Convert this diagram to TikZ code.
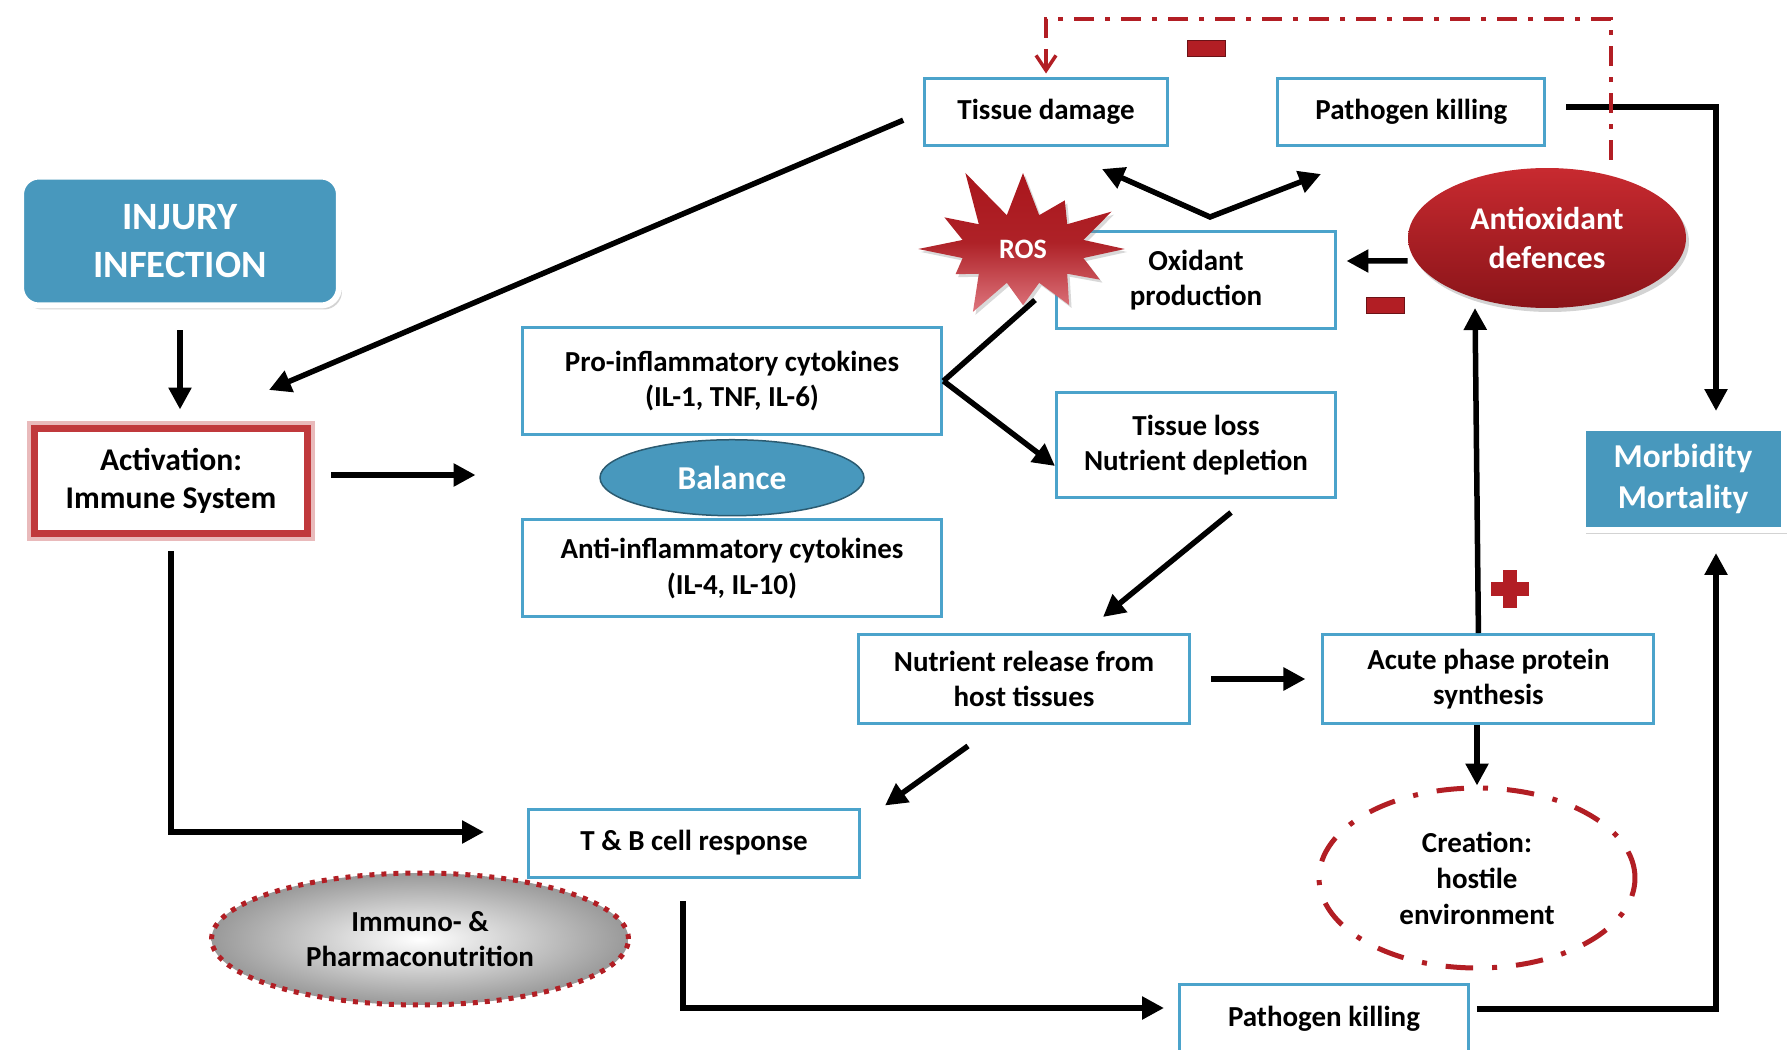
\documentclass[tikz,border=0pt]{standalone}
\usepackage{fontspec}
\setmainfont{Carlito}
\usetikzlibrary{positioning,shapes.geometric,shapes.symbols,shadows,arrows.meta}

\definecolor{boxblue}{RGB}{75,163,203}
\definecolor{fillblue}{RGB}{72,152,189}
\definecolor{darkred}{RGB}{178,30,36}
\definecolor{actred}{RGB}{192,57,60}
\definecolor{aored}{RGB}{200,42,48}
\definecolor{aodark}{RGB}{138,20,25}
\definecolor{rostop}{RGB}{170,22,28}
\definecolor{rosbot}{RGB}{222,118,126}

\begin{document}
\begin{tikzpicture}[x=0.02cm, y=-0.02cm,
  >={Triangle[length=0.44cm,width=0.44cm]},
  arr/.style={->, line width=0.11cm},
  txt/.style={align=center, inner sep=0pt, font=\bfseries\fontsize{16.5}{20}\selectfont},
  bluebox/.style={txt, rectangle, draw=boxblue, line width=0.06cm, fill=white},
  headbox/.style={txt, rectangle, fill=fillblue, draw=white, line width=0.12cm, text=white,
    drop shadow={shadow xshift=0.06cm, shadow yshift=-0.08cm, opacity=0.35}},
  minus/.style={rectangle, fill=darkred, draw=darkred!60!black, line width=0.02cm,
    minimum width=0.76cm, minimum height=0.32cm, inner sep=0pt},
  inhib/.style={draw=darkred, line width=0.07cm, dash pattern=on 0.4cm off 0.22cm on 0.1cm off 0.22cm},
  inhibtip/.style={draw=darkred, line width=0.07cm, -{Straight Barb[length=0.3cm,width=0.4cm]}}
]
\useasboundingbox (0,0) rectangle (1790,1050);

\node (injury) [headbox, rounded corners=0.36cm, minimum width=6.36cm, minimum height=2.58cm,
  font=\bfseries\fontsize{22}{27}\selectfont] at (180,241) {INJURY\\INFECTION};
\node (activ) [txt, rectangle, fill=white, draw=actred, line width=0.14cm,
  preaction={draw=actred!35, line width=0.28cm}, minimum width=5.48cm, minimum height=2.12cm,
  font=\bfseries\fontsize{18}{22}\selectfont] at (171,481) {Activation:\\Immune System};

\node (proinf) [bluebox, minimum width=8.4cm, minimum height=2.14cm] at (732,381) {Pro-inflammatory cytokines\\(IL-1, TNF, IL-6)};
\node (balance) [txt, ellipse, fill=fillblue, draw=fillblue!60!black, line width=0.03cm, text=white,
  minimum width=5.28cm, minimum height=1.52cm, font=\bfseries\fontsize{19}{23}\selectfont,
  below=0.06cm of proinf] {Balance};
\node (antiinf) [bluebox, minimum width=8.4cm, minimum height=1.94cm, below=0.04cm of balance] {Anti-inflammatory cytokines\\(IL-4, IL-10)};

\node (tissue) [bluebox, minimum width=4.88cm, minimum height=1.36cm] at (1046,112) {Tissue damage};
\node (pathtop) [bluebox, minimum width=5.34cm, minimum height=1.36cm, right=2.14cm of tissue] {Pathogen killing};
\node (oxid) [bluebox, minimum width=5.6cm, minimum height=1.96cm] at (1196,280) {Oxidant\\production};
\node (ros) [txt, starburst, starburst points=12, starburst point height=1.1cm, random starburst=11,
  top color=rostop, bottom color=rosbot, middle color=rostop!95!white, text=white,
  minimum width=4.7cm, minimum height=3.6cm, font=\bfseries\fontsize{16}{19}\selectfont,
  drop shadow={shadow xshift=0.05cm, shadow yshift=-0.06cm, opacity=0.3}] at (1023,249) {ROS};
\node (antiox) [txt, ellipse, top color=aored, bottom color=aodark, text=white,
  minimum width=5.56cm, minimum height=2.8cm, font=\bfseries\fontsize{18}{22}\selectfont,
  drop shadow={shadow xshift=0.06cm, shadow yshift=-0.08cm, opacity=0.35}] at (1547,238) {Antioxidant\\defences};

\node (tloss) [bluebox, minimum width=5.58cm, minimum height=2.12cm] at (1196,445) {Tissue loss\\Nutrient depletion};
\node (nutr) [bluebox, minimum width=6.64cm, minimum height=1.78cm] at (1024,679) {Nutrient release from\\host tissues};
\node (acute) [bluebox, minimum width=6.62cm, minimum height=1.78cm, right=2.6cm of nutr] {Acute phase protein\\synthesis};
\node (creation) [txt, ellipse, draw=darkred, line width=0.1cm,
  dash pattern=on 0.55cm off 0.38cm on 0.1cm off 0.38cm, minimum width=6.32cm, minimum height=3.6cm,
  font=\bfseries\fontsize{16.5}{20.5}\selectfont] at (1477,878) {Creation:\\hostile\\environment};
\node (morb) [headbox, minimum width=4.02cm, minimum height=2.06cm,
  font=\bfseries\fontsize{19}{23}\selectfont] at (1683,479) {Morbidity\\Mortality};

\node (tb) [bluebox, minimum width=6.62cm, minimum height=1.36cm] at (694,843) {T \& B cell response};
\node (immuno) [txt, ellipse, inner color=white, outer color=gray!80, draw=darkred, line width=0.1cm,
  dash pattern=on 0.1cm off 0.14cm, minimum width=8.34cm, minimum height=2.64cm] at (420,939) {Immuno- \&\\Pharmaconutrition};
\node (pathbot) [bluebox, minimum width=5.78cm, minimum height=1.4cm] at (1324,1019) {Pathogen killing};

\coordinate (activin) at (269,390);
\coordinate (rosin) at (1035,300);
\coordinate (vleft) at (1102,169);
\coordinate (vtip) at (1210,217);
\coordinate (vright) at (1321,174);
\coordinate (aotop) at (1611,160);
\coordinate (morbtop) at (1716,411);
\coordinate (morbbot) at (1716,553);
\coordinate (aoin) at (1475,308);
\coordinate (tbin) at (484,832);
\coordinate (pbin) at (1164,1008);

\draw[arr, shorten <=0.44cm, shorten >=0.3cm] (injury.south) -- (injury.south |- activ.north);
\draw[arr, shorten <=0.42cm] (tissue.west) -- (activin);
\draw[arr, shorten <=0.4cm, shorten >=0.9cm] ([yshift=0.12cm]activ.east) -- ([yshift=0.12cm]activ.east -| proinf.west);
\draw[line width=0.11cm] (proinf.east) -- (rosin);
\draw[arr] (proinf.east) -- ([yshift=-0.42cm]tloss.west);
\draw[arr, <->] (vleft) -- (vtip) -- (vright);
\draw[arr, shorten >=0.18cm] ([yshift=-0.46cm]antiox.west) -- ([yshift=0.38cm]oxid.east);
\draw[arr] ([xshift=0.4cm,yshift=0.1cm]pathtop.east) -| (morbtop);
\draw[inhib] (aotop) -- ++(0,-141) -| ([yshift=0.4cm]tissue.north);
\draw[inhibtip] ([yshift=0.5cm]tissue.north) -- ([yshift=0.06cm]tissue.north);
\draw[arr] ([shift={(0.7cm,-0.26cm)}]tloss.south) -- ([shift={(1.58cm,0.32cm)}]nutr.north);
\draw[arr] ([shift={(-1.12cm,-0.42cm)}]nutr.south) -- ([shift={(3.82cm,0.04cm)}]tb.north);
\draw[arr, shorten <=0.4cm, shorten >=0.32cm] (nutr) -- (acute);
\draw[arr] ([xshift=-0.2cm]acute.north) -- (aoin);
\draw[arr] (acute.south -| creation.north) -- (creation.north);
\draw[arr] ([yshift=-0.28cm]activ.south) |- (tbin);
\draw[arr] ([shift={(-0.22cm,-0.46cm)}]tb.south) |- (pbin);
\draw[arr] ([shift={(0.14cm,0.2cm)}]pathbot.east) -| (morbbot);

\node (minusa) [minus] at (1206,49) {};
\node (minusb) [minus] at (1385,306) {};
\fill[darkred] (1503,570) rectangle (1517,608);
\fill[darkred] (1491,582) rectangle (1529,596);
\end{tikzpicture}
\end{document}
